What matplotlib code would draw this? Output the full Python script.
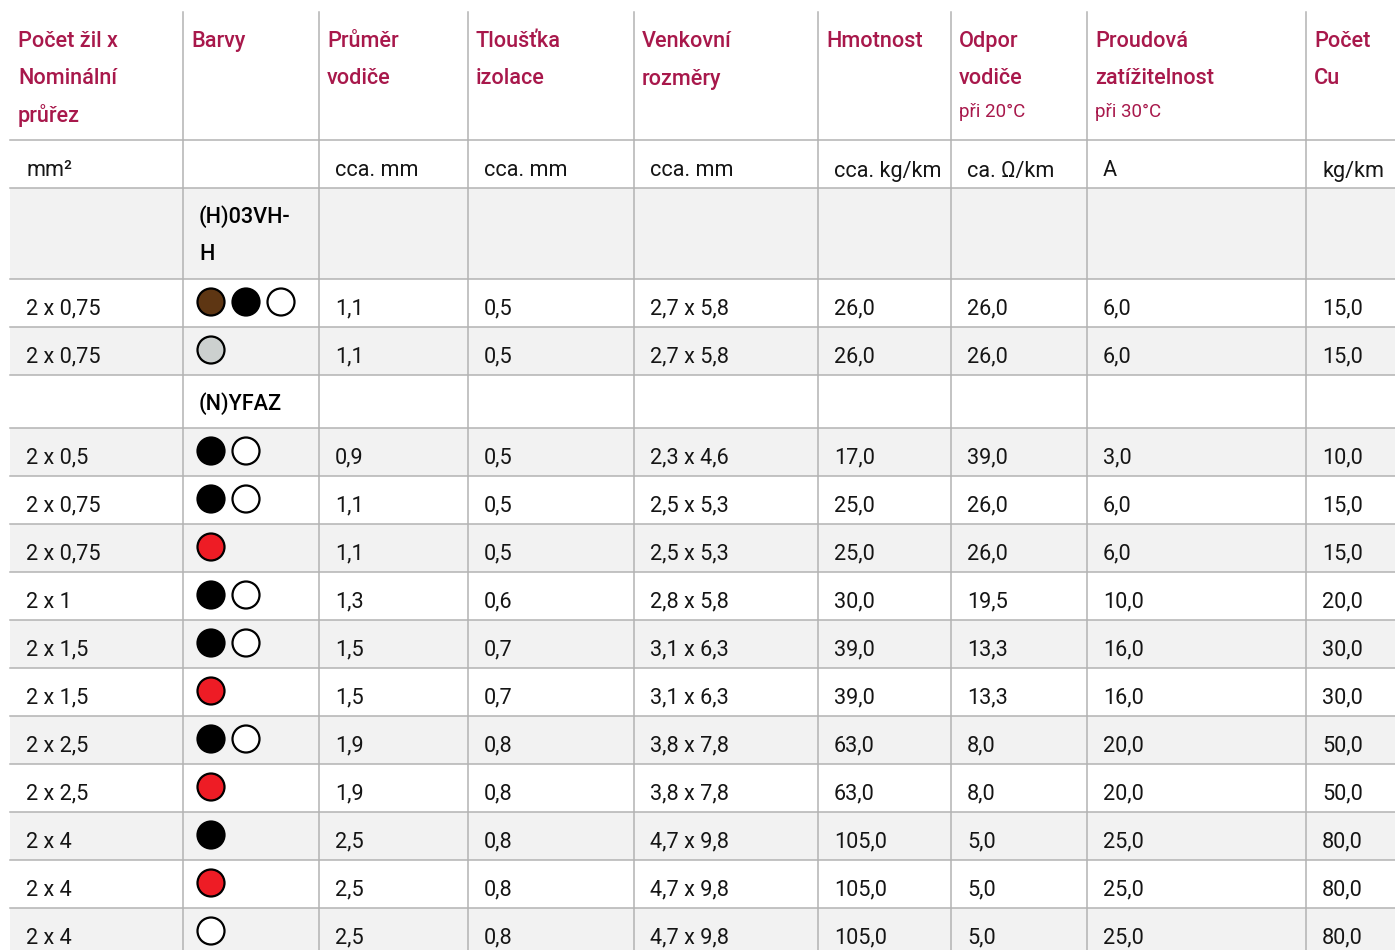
import matplotlib.pyplot as plt
from matplotlib.patches import Rectangle, Circle

plt.rcParams['font.family'] = ['Roboto', 'DejaVu Sans']

# --- data ---
hlavicky = [
    ['Počet žil x', 'Nominální', 'průřez'],
    ['Barvy'],
    ['Průměr', 'vodiče'],
    ['Tloušťka', 'izolace'],
    ['Venkovní', 'rozměry'],
    ['Hmotnost'],
    ['Odpor', 'vodiče'],
    ['Proudová', 'zatížitelnost'],
    ['Počet', 'Cu'],
]
poznamky = ['', '', '', '', '', '', 'při 20°C', 'při 30°C', '']
jednotky = ['mm²', '', 'cca. mm', 'cca. mm', 'cca. mm', 'cca. kg/km', 'ca. Ω/km', 'A', 'kg/km']

skupiny = [['(H)03VH-', 'H'], ['(N)YFAZ']]
zacatek_skupiny = [0, 2]

prurez = ['2 x 0,75', '2 x 0,75', '2 x 0,5', '2 x 0,75', '2 x 0,75', '2 x 1', '2 x 1,5',
          '2 x 1,5', '2 x 2,5', '2 x 2,5', '2 x 4', '2 x 4', '2 x 4']
barvy = [['hneda', 'cerna', 'bila'], ['seda'], ['cerna', 'bila'], ['cerna', 'bila'], ['cervena'],
         ['cerna', 'bila'], ['cerna', 'bila'], ['cervena'], ['cerna', 'bila'], ['cervena'],
         ['cerna'], ['cervena'], ['bila']]
prumer = ['1,1', '1,1', '0,9', '1,1', '1,1', '1,3', '1,5', '1,5', '1,9', '1,9', '2,5', '2,5', '2,5']
tloustka = ['0,5', '0,5', '0,5', '0,5', '0,5', '0,6', '0,7', '0,7', '0,8', '0,8', '0,8', '0,8', '0,8']
rozmery = ['2,7 x 5,8', '2,7 x 5,8', '2,3 x 4,6', '2,5 x 5,3', '2,5 x 5,3', '2,8 x 5,8', '3,1 x 6,3',
           '3,1 x 6,3', '3,8 x 7,8', '3,8 x 7,8', '4,7 x 9,8', '4,7 x 9,8', '4,7 x 9,8']
hmotnost = ['26,0', '26,0', '17,0', '25,0', '25,0', '30,0', '39,0', '39,0', '63,0', '63,0',
            '105,0', '105,0', '105,0']
odpor = ['26,0', '26,0', '39,0', '26,0', '26,0', '19,5', '13,3', '13,3', '8,0', '8,0', '5,0', '5,0', '5,0']
proud = ['6,0', '6,0', '3,0', '6,0', '6,0', '10,0', '16,0', '16,0', '20,0', '20,0', '25,0', '25,0', '25,0']
med = ['15,0', '15,0', '10,0', '15,0', '15,0', '20,0', '30,0', '30,0', '50,0', '50,0', '80,0', '80,0', '80,0']

# --- layout / styl ---
W, H = 1395, 950
hrany_sloupcu = [10, 183, 319, 468, 634, 818, 951, 1087, 1306, 1395]
barva_hlavicky = '#A8184B'
barva_textu = '#151515'
barva_car = '#B3B3B3'
barva_stinu = '#F2F2F2'
mapa_barev = {'hneda': '#5E3613', 'cerna': '#000000', 'bila': '#FFFFFF',
              'seda': '#CCD0CF', 'cervena': '#EE1C25'}
vel = 15.6

fig = plt.figure(figsize=(W / 100, H / 100), dpi=100)
ax = fig.add_axes([0, 0, 1, 1])
ax.set_xlim(0, W)
ax.set_ylim(H, 0)
ax.axis('off')

# hlavicka
horni = 12
for i, radky in enumerate(hlavicky):
    x = hrany_sloupcu[i] + 8
    for j, t in enumerate(radky):
        ax.text(x, horni + 35 + j * 37.5, t, fontsize=vel, fontweight='medium',
                color=barva_hlavicky, va='baseline', ha='left')
    if poznamky[i]:
        ax.text(x, 117, poznamky[i], fontsize=13.5, color=barva_hlavicky,
                va='baseline', ha='left')

y = 140
car_y = [y]
for i, t in enumerate(jednotky):
    ax.text(hrany_sloupcu[i] + 16, y + 36.5, t, fontsize=vel,
            color=barva_textu, va='baseline')
y += 48
car_y.append(y)

# telo tabulky
radky_tela = []
for r in range(len(prurez)):
    if r in zacatek_skupiny:
        radky_tela.append(('g', skupiny[zacatek_skupiny.index(r)]))
    radky_tela.append(('d', r))

for k, (druh, obsah) in enumerate(radky_tela):
    if druh == 'g':
        vyska = 53 + 38 * (len(obsah) - 1)
    else:
        vyska = 48
    if k % 2 == 0:
        ax.add_patch(Rectangle((hrany_sloupcu[0], y), W - hrany_sloupcu[0], vyska,
                               facecolor=barva_stinu, edgecolor='none', zorder=0))
    if druh == 'g':
        for j, t in enumerate(obsah):
            ax.text(hrany_sloupcu[1] + 16, y + 34.5 + j * 38, t, fontsize=vel,
                    fontweight='medium', color='black', va='baseline')
    else:
        r = obsah
        hodnoty = [prurez[r], None, prumer[r], tloustka[r], rozmery[r], hmotnost[r],
                   odpor[r], proud[r], med[r]]
        for i, t in enumerate(hodnoty):
            if t is not None:
                ax.text(hrany_sloupcu[i] + 16, y + 35.5, t, fontsize=vel,
                        color=barva_textu, va='baseline')
        for j, b in enumerate(barvy[r]):
            ax.add_patch(Circle((hrany_sloupcu[1] + 28 + j * 35, y + vyska / 2 - 1), 13.5,
                                facecolor=mapa_barev[b], edgecolor='black', lw=1.6, zorder=3))
    y += vyska
    car_y.append(y)

for cy in car_y:
    ax.plot([hrany_sloupcu[0], W], [cy, cy], color=barva_car, lw=1.1, zorder=2)
for cx in hrany_sloupcu[1:-1]:
    ax.plot([cx, cx], [horni, H], color=barva_car, lw=1.1, zorder=2)

fig.savefig('out.png', dpi=100)
